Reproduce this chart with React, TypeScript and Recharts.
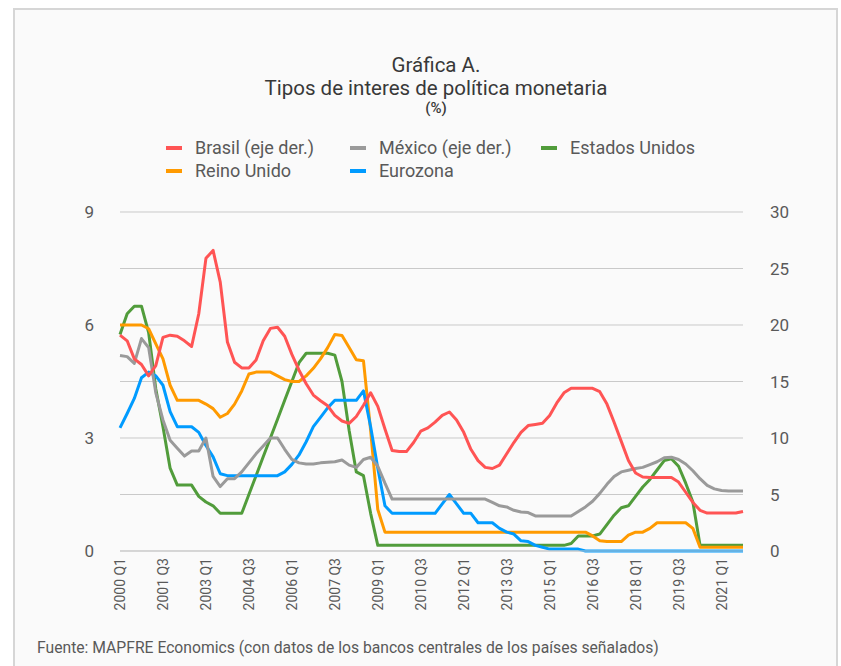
import { CartesianGrid, Line, LineChart, XAxis, YAxis } from "recharts";

const YEARS = [
  2000, 2001, 2002, 2003, 2004, 2005, 2006, 2007, 2008, 2009, 2010, 2011,
  2012, 2013, 2014, 2015, 2016, 2017, 2018, 2019, 2020, 2021,
];
const QUARTER_NAMES = ["Q1", "Q2", "Q3", "Q4"];
const QUARTERS = YEARS.flatMap((y) => QUARTER_NAMES.map((q) => `${y} ${q}`));

// eje derecho
const BRASIL = [
  19.1, 18.6, 17.0, 16.5, 15.5, 16.4, 18.9, 19.1, 19.0, 18.6, 18.1, 21.0,
  25.9, 26.6, 23.8, 18.5, 16.7, 16.2, 16.2, 16.9, 18.6, 19.7, 19.8, 19.0,
  17.4, 16.0, 14.8, 13.8, 13.3, 12.85, 12.0, 11.5, 11.3, 11.9, 12.9, 14.0,
  12.8, 10.8, 8.9, 8.8, 8.8, 9.6, 10.6, 10.9, 11.4, 12.0, 12.3, 11.6,
  10.5, 9.0, 8.0, 7.4, 7.3, 7.6, 8.6, 9.6, 10.5, 11.1, 11.2, 11.3,
  12.0, 13.1, 14.0, 14.4, 14.4, 14.4, 14.4, 14.1, 13.0, 11.4, 9.7, 8.0,
  6.9, 6.55, 6.5, 6.5, 6.5, 6.5, 6.1, 5.2, 4.3, 3.6, 3.36, 3.36,
  3.36, 3.36, 3.36, 3.5,
];
const MEXICO = [
  17.3, 17.2, 16.6, 18.8, 18.0, 14.0, 11.6, 9.8, 9.1, 8.4, 8.85, 8.85,
  10.0, 6.6, 5.7, 6.4, 6.4, 7.0, 7.8, 8.6, 9.3, 10.0, 10.0, 9.0,
  8.1, 7.8, 7.7, 7.7, 7.8, 7.85, 7.9, 8.05, 7.6, 7.4, 8.1, 8.3,
  7.5, 6.0, 4.6, 4.6, 4.6, 4.6, 4.6, 4.6, 4.6, 4.6, 4.6, 4.6,
  4.6, 4.6, 4.6, 4.6, 4.3, 4.0, 3.9, 3.6, 3.45, 3.4, 3.1, 3.1,
  3.1, 3.1, 3.1, 3.1, 3.5, 3.9, 4.4, 5.1, 5.9, 6.6, 7.0, 7.15,
  7.3, 7.4, 7.65, 7.9, 8.25, 8.3, 8.1, 7.7, 7.1, 6.4, 5.8, 5.5,
  5.35, 5.3, 5.3, 5.3,
];
// eje izquierdo
const ESTADOS_UNIDOS = [
  5.75, 6.3, 6.5, 6.5, 5.8, 4.3, 3.3, 2.2, 1.75, 1.75, 1.75, 1.45,
  1.3, 1.2, 1.0, 1.0, 1.0, 1.0, 1.5, 2.0, 2.5, 3.0, 3.5, 4.0,
  4.5, 5.0, 5.25, 5.25, 5.25, 5.25, 5.2, 4.5, 3.2, 2.1, 2.0, 1.0,
  0.15, 0.15, 0.15, 0.15, 0.15, 0.15, 0.15, 0.15, 0.15, 0.15, 0.15, 0.15,
  0.15, 0.15, 0.15, 0.15, 0.15, 0.15, 0.15, 0.15, 0.15, 0.15, 0.15, 0.15,
  0.15, 0.15, 0.15, 0.2, 0.4, 0.4, 0.4, 0.45, 0.7, 0.95, 1.15, 1.2,
  1.45, 1.7, 1.9, 2.15, 2.4, 2.45, 2.25, 1.8, 1.3, 0.15, 0.15, 0.15,
  0.15, 0.15, 0.15, 0.15,
];
const REINO_UNIDO = [
  6.0, 6.0, 6.0, 6.0, 5.9, 5.5, 5.1, 4.4, 4.0, 4.0, 4.0, 4.0,
  3.9, 3.78, 3.55, 3.65, 3.9, 4.25, 4.7, 4.75, 4.75, 4.75, 4.65, 4.55,
  4.5, 4.5, 4.65, 4.85, 5.1, 5.4, 5.75, 5.72, 5.4, 5.08, 5.05, 3.2,
  1.1, 0.5, 0.5, 0.5, 0.5, 0.5, 0.5, 0.5, 0.5, 0.5, 0.5, 0.5,
  0.5, 0.5, 0.5, 0.5, 0.5, 0.5, 0.5, 0.5, 0.5, 0.5, 0.5, 0.5,
  0.5, 0.5, 0.5, 0.5, 0.5, 0.5, 0.4, 0.27, 0.25, 0.25, 0.25, 0.42,
  0.5, 0.5, 0.6, 0.75, 0.75, 0.75, 0.75, 0.75, 0.6, 0.1, 0.1, 0.1,
  0.1, 0.1, 0.1, 0.1,
];
const EUROZONA = [
  3.27, 3.65, 4.05, 4.6, 4.75, 4.65, 4.4, 3.7, 3.3, 3.3, 3.3, 3.15,
  2.8, 2.5, 2.05, 2.0, 2.0, 2.0, 2.0, 2.0, 2.0, 2.0, 2.0, 2.1,
  2.3, 2.55, 2.9, 3.3, 3.55, 3.8, 4.0, 4.0, 4.0, 4.0, 4.25, 3.3,
  2.2, 1.2, 1.0, 1.0, 1.0, 1.0, 1.0, 1.0, 1.0, 1.25, 1.5, 1.25,
  1.0, 1.0, 0.75, 0.75, 0.75, 0.6, 0.5, 0.45, 0.27, 0.25, 0.15, 0.1,
  0.05, 0.05, 0.05, 0.05, 0.05, 0, 0, 0, 0, 0, 0, 0,
  0, 0, 0, 0, 0, 0, 0, 0, 0, 0, 0, 0,
  0, 0, 0, 0,
];

const LEFT_TICKS = [0, 1.5, 3, 4.5, 6, 7.5, 9];
const RIGHT_TICKS = [0, 5, 10, 15, 20, 25, 30];

const SERIES = [
  { key: "brasil", name: "Brasil (eje der.)", color: "#ff5454", axis: "right" },
  { key: "mexico", name: "México (eje der.)", color: "#9a9a9a", axis: "right" },
  { key: "eeuu", name: "Estados Unidos", color: "#519c3b", axis: "left" },
  { key: "uk", name: "Reino Unido", color: "#ff9a00", axis: "left" },
  { key: "euro", name: "Eurozona", color: "#009bff", axis: "left" },
];

const data = QUARTERS.map((q, i) => ({
  q,
  brasil: BRASIL[i],
  mexico: MEXICO[i],
  eeuu: ESTADOS_UNIDOS[i],
  uk: REINO_UNIDO[i],
  euro: EUROZONA[i],
}));

const FONT = "Roboto, 'DejaVu Sans', sans-serif";
const TEXT = "#595959";

function QuarterTick({ x, y, payload }: any) {
  return (
    <text
      x={x}
      y={y}
      transform={`rotate(-90 ${x} ${y})`}
      textAnchor="end"
      dy="0.36em"
      fontSize={14}
      fontFamily={FONT}
      fill={TEXT}
    >
      {payload.value}
    </text>
  );
}

const LEGEND_POS = [
  { left: 166, top: 137 },
  { left: 350, top: 137 },
  { left: 541, top: 137 },
  { left: 166, top: 160 },
  { left: 350, top: 160 },
];

export default function App() {
  const drawOrder = ["eeuu", "uk", "euro", "mexico", "brasil"];
  return (
    <div
      style={{
        position: "absolute",
        left: 0,
        top: 0,
        width: 841,
        height: 666,
        background: "#ffffff",
        fontFamily: FONT,
        overflow: "hidden",
      }}
    >
      <div
        style={{
          position: "absolute",
          left: 13,
          top: 8,
          width: 821,
          height: 670,
          background: "#fafafa",
          borderLeft: "2px solid #d6d6d6",
          borderTop: "2px solid #d6d6d6",
          borderRight: "2px solid #d6d6d6",
        }}
      />
      <div
        style={{
          position: "absolute",
          left: 0,
          width: 872,
          top: 54,
          textAlign: "center",
          color: "#383838",
          fontWeight: 400,
        }}
      >
        <div style={{ fontSize: 20.5, lineHeight: "23px" }}>Gráfica A.</div>
        <div style={{ fontSize: 20.5, lineHeight: "23px" }}>
          Tipos de interes de política monetaria
        </div>
        <div style={{ fontSize: 15, lineHeight: "17px", fontWeight: 500 }}>(%)</div>
      </div>
      {SERIES.map((s, i) => (
        <div
          key={s.key}
          style={{
            position: "absolute",
            left: LEGEND_POS[i].left,
            top: LEGEND_POS[i].top,
            display: "flex",
            alignItems: "center",
            fontSize: 18,
            color: TEXT,
            lineHeight: "22px",
            whiteSpace: "nowrap",
          }}
        >
          <span
            style={{
              display: "inline-block",
              width: 16,
              height: 4,
              background: s.color,
              marginRight: 13,
            }}
          />
          {s.name}
        </div>
      ))}
      <div style={{ position: "absolute", left: 0, top: 0 }}>
        <LineChart
          width={841}
          height={666}
          data={data}
          margin={{ top: 212, right: 38, bottom: 45, left: 60 }}
        >
          <CartesianGrid
            yAxisId="left"
            vertical={false}
            stroke="#c9c9c9"
            strokeWidth={1}
          />
          <XAxis
            dataKey="q"
            interval={5}
            tick={<QuarterTick />}
            tickLine={false}
            tickSize={0}
            tickMargin={7}
            axisLine={{ stroke: "#c9c9c9" }}
            height={70}
          />
          <YAxis
            yAxisId="left"
            domain={[0, 9]}
            ticks={LEFT_TICKS}
            tickFormatter={(v: number) => (v % 3 === 0 ? String(v) : "")}
            axisLine={false}
            tickLine={false}
            tickSize={0}
            tickMargin={26}
            width={60}
            tick={{ fontSize: 17, fill: TEXT, fontFamily: FONT }}
          />
          <YAxis
            yAxisId="right"
            orientation="right"
            domain={[0, 30]}
            ticks={RIGHT_TICKS}
            axisLine={false}
            tickLine={false}
            tickSize={0}
            tickMargin={27}
            width={60}
            tick={{ fontSize: 17, fill: TEXT, fontFamily: FONT, textAnchor: "start" }}
          />
          {drawOrder.map((k) => {
            const s = SERIES.find((x) => x.key === k)!;
            return (
              <Line
                key={s.key}
                yAxisId={s.axis}
                type="linear"
                dataKey={s.key}
                name={s.name}
                stroke={s.color}
                strokeWidth={3}
                dot={false}
                activeDot={false}
                strokeLinejoin="round"
                isAnimationActive={false}
              />
            );
          })}
        </LineChart>
      </div>
      <div
        style={{
          position: "absolute",
          left: 37,
          top: 638,
          fontSize: 15.7,
          color: TEXT,
          whiteSpace: "nowrap",
        }}
      >
        Fuente: MAPFRE Economics (con datos de los bancos centrales de los países señalados)
      </div>
    </div>
  );
}
